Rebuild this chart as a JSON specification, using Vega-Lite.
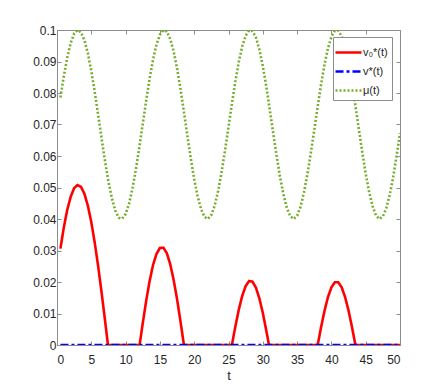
{
  "$schema": "https://vega.github.io/schema/vega-lite/v6.json",
  "width": 343,
  "height": 315,
  "autosize": "none",
  "padding": {"left": 57, "top": 30, "right": 43, "bottom": 43},
  "background": "white",
  "config": {
    "font": "Liberation Sans",
    "view": {"stroke": "#8c8c8c", "strokeWidth": 1},
    "axis": {
      "domainColor": "#8c8c8c",
      "tickColor": "#8c8c8c",
      "labelColor": "#262626",
      "titleColor": "#262626",
      "labelFontSize": 12,
      "titleFontSize": 13,
      "titleFontWeight": "normal",
      "grid": false
    }
  },
  "data": {
    "values": [
      {"t": 0.5, "v": 0.07858, "s": "mu"}, {"t": 1, "v": 0.08542, "s": "mu"}, {"t": 1.5, "v": 0.09131, "s": "mu"}, {"t": 2, "v": 0.09587, "s": "mu"}, {"t": 2.5, "v": 0.09882, "s": "mu"}, {"t": 3, "v": 0.09999, "s": "mu"}, {"t": 3.5, "v": 0.09928, "s": "mu"}, {"t": 4, "v": 0.09676, "s": "mu"}, {"t": 4.5, "v": 0.09259, "s": "mu"}, {"t": 5, "v": 0.08698, "s": "mu"}, {"t": 5.5, "v": 0.08037, "s": "mu"}, {"t": 6, "v": 0.07304, "s": "mu"}, {"t": 6.5, "v": 0.06559, "s": "mu"}, {"t": 7, "v": 0.05838, "s": "mu"}, {"t": 7.5, "v": 0.05187, "s": "mu"}, {"t": 8, "v": 0.04659, "s": "mu"}, {"t": 8.5, "v": 0.04262, "s": "mu"}, {"t": 9, "v": 0.04044, "s": "mu"}, {"t": 9.5, "v": 0.04009, "s": "mu"}, {"t": 10, "v": 0.04159, "s": "mu"}, {"t": 10.5, "v": 0.04484, "s": "mu"}, {"t": 11, "v": 0.04963, "s": "mu"}, {"t": 11.5, "v": 0.05575, "s": "mu"}, {"t": 12, "v": 0.06276, "s": "mu"}, {"t": 12.5, "v": 0.0702, "s": "mu"}, {"t": 13, "v": 0.07762, "s": "mu"}, {"t": 13.5, "v": 0.08456, "s": "mu"}, {"t": 14, "v": 0.0906, "s": "mu"}, {"t": 14.5, "v": 0.09536, "s": "mu"}, {"t": 15, "v": 0.09853, "s": "mu"}, {"t": 15.5, "v": 0.09994, "s": "mu"}, {"t": 16, "v": 0.09948, "s": "mu"}, {"t": 16.5, "v": 0.09719, "s": "mu"}, {"t": 17, "v": 0.09323, "s": "mu"}, {"t": 17.5, "v": 0.0878, "s": "mu"}, {"t": 18, "v": 0.08129, "s": "mu"}, {"t": 18.5, "v": 0.07403, "s": "mu"}, {"t": 19, "v": 0.06655, "s": "mu"}, {"t": 19.5, "v": 0.05928, "s": "mu"}, {"t": 20, "v": 0.05265, "s": "mu"}, {"t": 20.5, "v": 0.04722, "s": "mu"}, {"t": 21, "v": 0.04315, "s": "mu"}, {"t": 21.5, "v": 0.04066, "s": "mu"}, {"t": 22, "v": 0.04002, "s": "mu"}, {"t": 22.5, "v": 0.04128, "s": "mu"}, {"t": 23, "v": 0.04435, "s": "mu"}, {"t": 23.5, "v": 0.04904, "s": "mu"}, {"t": 24, "v": 0.05497, "s": "mu"}, {"t": 24.5, "v": 0.06186, "s": "mu"}, {"t": 25, "v": 0.06921, "s": "mu"}, {"t": 25.5, "v": 0.07665, "s": "mu"}, {"t": 26, "v": 0.08368, "s": "mu"}, {"t": 26.5, "v": 0.08986, "s": "mu"}, {"t": 27, "v": 0.09481, "s": "mu"}, {"t": 27.5, "v": 0.09821, "s": "mu"}, {"t": 28, "v": 0.09986, "s": "mu"}, {"t": 28.5, "v": 0.09965, "s": "mu"}, {"t": 29, "v": 0.09761, "s": "mu"}, {"t": 29.5, "v": 0.09383, "s": "mu"}, {"t": 30, "v": 0.08859, "s": "mu"}, {"t": 30.5, "v": 0.0822, "s": "mu"}, {"t": 31, "v": 0.075, "s": "mu"}, {"t": 31.5, "v": 0.06754, "s": "mu"}, {"t": 32, "v": 0.06023, "s": "mu"}, {"t": 32.5, "v": 0.05347, "s": "mu"}, {"t": 33, "v": 0.04788, "s": "mu"}, {"t": 33.5, "v": 0.04362, "s": "mu"}, {"t": 34, "v": 0.04089, "s": "mu"}, {"t": 34.5, "v": 0.04, "s": "mu"}, {"t": 35, "v": 0.04102, "s": "mu"}, {"t": 35.5, "v": 0.04389, "s": "mu"}, {"t": 36, "v": 0.0484, "s": "mu"}, {"t": 36.5, "v": 0.05423, "s": "mu"}, {"t": 37, "v": 0.06094, "s": "mu"}, {"t": 37.5, "v": 0.06821, "s": "mu"}, {"t": 38, "v": 0.07568, "s": "mu"}, {"t": 38.5, "v": 0.08279, "s": "mu"}, {"t": 39, "v": 0.08911, "s": "mu"}, {"t": 39.5, "v": 0.09423, "s": "mu"}, {"t": 40, "v": 0.09785, "s": "mu"}, {"t": 40.5, "v": 0.09975, "s": "mu"}, {"t": 41, "v": 0.09979, "s": "mu"}, {"t": 41.5, "v": 0.09798, "s": "mu"}, {"t": 42, "v": 0.09442, "s": "mu"}, {"t": 42.5, "v": 0.08936, "s": "mu"}, {"t": 43, "v": 0.0831, "s": "mu"}, {"t": 43.5, "v": 0.07599, "s": "mu"}, {"t": 44, "v": 0.06854, "s": "mu"}, {"t": 44.5, "v": 0.06118, "s": "mu"}, {"t": 45, "v": 0.05437, "s": "mu"}, {"t": 45.5, "v": 0.04857, "s": "mu"}, {"t": 46, "v": 0.04408, "s": "mu"}, {"t": 46.5, "v": 0.04112, "s": "mu"}, {"t": 47, "v": 0.04001, "s": "mu"}, {"t": 47.5, "v": 0.0408, "s": "mu"}, {"t": 48, "v": 0.0434, "s": "mu"}, {"t": 48.5, "v": 0.04761, "s": "mu"}, {"t": 49, "v": 0.05319, "s": "mu"}, {"t": 49.5, "v": 0.06, "s": "mu"}, {"t": 50, "v": 0.06722, "s": "mu"},

      {"t": 0.5, "v": 0.0306, "s": "v0"}, {"t": 1, "v": 0.0374, "s": "v0"}, {"t": 1.5, "v": 0.043, "s": "v0"}, {"t": 2, "v": 0.0471, "s": "v0"}, {"t": 2.5, "v": 0.0498, "s": "v0"}, {"t": 3, "v": 0.0508, "s": "v0"}, {"t": 3.5, "v": 0.0502, "s": "v0"}, {"t": 4, "v": 0.048, "s": "v0"}, {"t": 4.5, "v": 0.0442, "s": "v0"}, {"t": 5, "v": 0.039, "s": "v0"}, {"t": 5.5, "v": 0.0325, "s": "v0"}, {"t": 6, "v": 0.025, "s": "v0"}, {"t": 6.5, "v": 0.0167, "s": "v0"}, {"t": 7, "v": 0.0078, "s": "v0"}, {"t": 7.43, "v": 0, "s": "v0"},
      {"t": 12.04, "v": 0, "s": "v0"}, {"t": 12.5, "v": 0.0069, "s": "v0"}, {"t": 13, "v": 0.014, "s": "v0"}, {"t": 13.5, "v": 0.0203, "s": "v0"}, {"t": 14, "v": 0.0254, "s": "v0"}, {"t": 14.5, "v": 0.0289, "s": "v0"}, {"t": 15, "v": 0.0308, "s": "v0"}, {"t": 15.5, "v": 0.0309, "s": "v0"}, {"t": 16, "v": 0.0292, "s": "v0"}, {"t": 16.5, "v": 0.0257, "s": "v0"}, {"t": 17, "v": 0.0207, "s": "v0"}, {"t": 17.5, "v": 0.0146, "s": "v0"}, {"t": 18, "v": 0.0075, "s": "v0"}, {"t": 18.5, "v": 0, "s": "v0"},
      {"t": 25.5, "v": 0, "s": "v0"}, {"t": 26, "v": 0.0059, "s": "v0"}, {"t": 26.5, "v": 0.0112, "s": "v0"}, {"t": 27, "v": 0.0156, "s": "v0"}, {"t": 27.5, "v": 0.0187, "s": "v0"}, {"t": 28, "v": 0.0203, "s": "v0"}, {"t": 28.5, "v": 0.0201, "s": "v0"}, {"t": 29, "v": 0.0182, "s": "v0"}, {"t": 29.5, "v": 0.0148, "s": "v0"}, {"t": 30, "v": 0.0102, "s": "v0"}, {"t": 30.5, "v": 0.0047, "s": "v0"}, {"t": 30.9, "v": 0, "s": "v0"},
      {"t": 38, "v": 0, "s": "v0"}, {"t": 38.5, "v": 0.0057, "s": "v0"}, {"t": 39, "v": 0.0109, "s": "v0"}, {"t": 39.5, "v": 0.0152, "s": "v0"}, {"t": 40, "v": 0.0183, "s": "v0"}, {"t": 40.5, "v": 0.0199, "s": "v0"}, {"t": 41, "v": 0.0199, "s": "v0"}, {"t": 41.5, "v": 0.0183, "s": "v0"}, {"t": 42, "v": 0.0152, "s": "v0"}, {"t": 42.5, "v": 0.0109, "s": "v0"}, {"t": 43, "v": 0.0057, "s": "v0"}, {"t": 43.5, "v": 0, "s": "v0"}, {"t": 50, "v": 0, "s": "v0"},

      {"t": 0.5, "v": 0, "s": "vs"}, {"t": 50, "v": 0, "s": "vs"}
    ]
  },
  "layer": [
    {
      "mark": {"type": "line", "strokeWidth": 2.6, "clip": true},
      "encoding": {
        "x": {"field": "t", "type": "quantitative", "scale": {"domain": [0, 50], "nice": false},
              "axis": {"orient": "bottom", "values": [0,5,10,15,20,25,30,35,40,45,50], "tickSize": -4, "labelPadding": 13, "title": "t", "titlePadding": 4}},
        "y": {"field": "v", "type": "quantitative", "scale": {"domain": [0, 0.1], "nice": false},
              "axis": {"orient": "left", "values": [0,0.01,0.02,0.03,0.04,0.05,0.06,0.07,0.08,0.09,0.1], "format": ".2~f", "tickSize": -4, "labelPadding": 5, "title": null}},
        "color": {"field": "s", "type": "nominal",
                  "scale": {"domain": ["v0", "vs", "mu"], "range": ["#ff0000", "#0000ff", "#77ac30"]},
                  "legend": {"orient": "none", "legendX": 276, "legendY": 7, "title": null,
                             "labelExpr": "datum.value == 'v0' ? 'v₀*(t)' : datum.value == 'vs' ? 'v*(t)' : 'μ(t)'",
                             "fillColor": "white", "strokeColor": "#8c8c8c", "padding": 4,
                             "symbolType": "M-1.3,0H1.3", "symbolSize": 400, "symbolStrokeWidth": 2.6,
                             "labelFontSize": 11, "labelColor": "#262626", "rowPadding": 2, "labelOffset": 3}},
        "strokeDash": {"field": "s", "type": "nominal",
                       "scale": {"domain": ["v0", "vs", "mu"], "range": [[1, 0], [8, 3, 3, 3], [2, 2]]},
                       "legend": null}
      }
    },
    {
      "mark": {"type": "line", "opacity": 0},
      "encoding": {
        "x": {"field": "t", "type": "quantitative", "scale": {"domain": [0, 50], "nice": false},
              "axis": {"orient": "top", "values": [0,5,10,15,20,25,30,35,40,45,50], "tickSize": -4, "labels": false, "title": null, "domain": false}},
        "y": {"field": "v", "type": "quantitative", "scale": {"domain": [0, 0.1], "nice": false},
              "axis": {"orient": "right", "values": [0,0.01,0.02,0.03,0.04,0.05,0.06,0.07,0.08,0.09,0.1], "tickSize": -4, "labels": false, "title": null, "domain": false}},
        "detail": {"field": "s"}
      }
    }
  ],
  "resolve": {"axis": {"x": "independent", "y": "independent"}}
}
